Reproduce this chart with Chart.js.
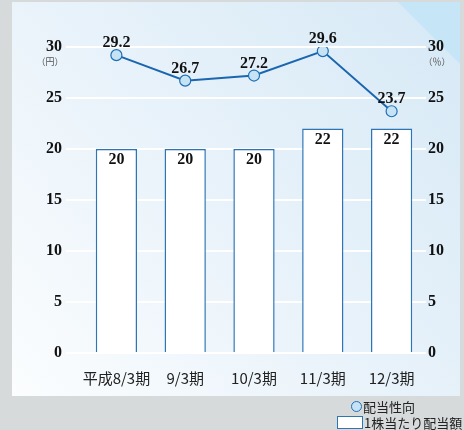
<!DOCTYPE html>
<html>
<head>
<meta charset="utf-8">
<script src="https://cdn.jsdelivr.net/npm/chart.js@4/dist/chart.umd.min.js"></script>
<style>
    html, body { margin: 0; padding: 0; background: #d6dadb; }
    #wrap { position: relative; width: 464px; height: 430px; }
    #chart { position: absolute; left: 0; top: 0; }
    .legend { position: absolute; font: 13px "Noto Sans CJK JP", sans-serif; color: #222; white-space: nowrap; line-height: 15px; }
    .legend span { display: inline-block; vertical-align: middle; box-sizing: border-box; }
</style>
</head>
<body>
<div id="wrap">
    <canvas id="chart" width="464" height="430"></canvas>
    <div class="legend" style="left:351px; top:397px;"><span style="width:11px;height:11px;border-radius:50%;background:#c5e3f5;border:1.5px solid #1f6fb5;"></span><span style="margin-left:1px;">配当性向</span></div>
    <div class="legend" style="left:337px; top:413px;"><span style="width:26px;height:13px;background:#fff;border:1.5px solid #2e75b6;"></span><span style="margin-left:1px;">1株当たり配当額</span></div>
</div>
<script>
const periods = ["平成8/3期", "9/3期", "10/3期", "11/3期", "12/3期"];
const dividendPerShare = [20, 20, 20, 22, 22];
const payoutRatio = [29.2, 26.7, 27.2, 29.6, 23.7];
const yTicks = [0, 5, 10, 15, 20, 25, 30];

const serifBold = { family: "'Liberation Serif', 'DejaVu Serif', serif", size: 16, weight: "bold" };

// panel background, corner triangle and unit labels
const backdrop = {
    id: "backdrop",
    beforeDraw(chart) {
        const ctx = chart.ctx;
        ctx.save();
        const grad = ctx.createLinearGradient(12, 396, 460, 2);
        grad.addColorStop(0, "#fbfdfe");
        grad.addColorStop(0.5, "#e8f2fa");
        grad.addColorStop(1, "#d6e9f6");
        ctx.fillStyle = grad;
        ctx.fillRect(12, 2, 448, 394);
        ctx.fillStyle = "#c6e6f7";
        ctx.beginPath();
        ctx.moveTo(398, 2);
        ctx.lineTo(460, 2);
        ctx.lineTo(460, 64);
        ctx.closePath();
        ctx.fill();
        ctx.restore();
    },
    afterDraw(chart) {
        const ctx = chart.ctx;
        ctx.save();
        ctx.font = "9px 'Noto Sans CJK JP', sans-serif";
        ctx.fillStyle = "#555";
        ctx.textAlign = "center";
        ctx.textBaseline = "middle";
        ctx.fillText("（円）", 50, 62);
        ctx.fillText("（％）", 437, 62);
        ctx.restore();
    }
};

// value labels above the points and inside the bars
const valueLabels = {
    id: "valueLabels",
    afterDatasetsDraw(chart) {
        const ctx = chart.ctx;
        ctx.save();
        ctx.font = "bold 16px 'Liberation Serif', serif";
        ctx.fillStyle = "#111";
        ctx.textAlign = "center";
        chart.getDatasetMeta(1).data.forEach((bar, i) => {
            ctx.textBaseline = "top";
            ctx.fillText(String(dividendPerShare[i]), bar.x, bar.y + 3);
        });
        chart.getDatasetMeta(0).data.forEach((pt, i) => {
            ctx.textBaseline = "bottom";
            ctx.fillText(payoutRatio[i].toFixed(1), pt.x, pt.y - 4);
        });
        ctx.restore();
    }
};

new Chart(document.getElementById("chart"), {
    data: {
        labels: periods,
        datasets: [
            {
                type: "line",
                label: "配当性向",
                data: payoutRatio,
                yAxisID: "y",
                borderColor: "#1a66b0",
                borderWidth: 2,
                pointRadius: 5.5,
                pointBackgroundColor: "#c5e3f5",
                pointBorderColor: "#1f6fb5",
                pointBorderWidth: 1.2,
                tension: 0,
                order: 0
            },
            {
                type: "bar",
                label: "1株当たり配当額",
                data: dividendPerShare,
                yAxisID: "y",
                backgroundColor: "#ffffff",
                borderColor: "#2e75b6",
                borderWidth: 1.5,
                barPercentage: 0.6,
                categoryPercentage: 1,
                order: 1
            }
        ]
    },
    options: {
        responsive: false,
        animation: false,
        layout: { padding: { top: 47, right: 0, bottom: 0, left: 0 } },
        plugins: { legend: { display: false }, tooltip: { enabled: false } },
        scales: {
            x: {
                grid: { display: false },
                border: { display: false },
                ticks: {
                    padding: 8,
                    minRotation: 0,
                    maxRotation: 0,
                    autoSkip: false,
                    color: "#222",
                    font: { family: "'Noto Sans CJK JP', sans-serif", size: 15 }
                },
                afterFit(scale) { scale.height = 77; }
            },
            y: {
                position: "left",
                min: 0,
                max: 30,
                afterBuildTicks(scale) { scale.ticks = yTicks.map((v) => ({ value: v })); },
                grid: { color: "#ffffff", lineWidth: 2, tickLength: 16, drawTicks: true },
                border: { display: false },
                ticks: { padding: 4, color: "#111", font: serifBold },
                afterFit(scale) { scale.width = 82; }
            },
            y2: {
                position: "right",
                min: 0,
                max: 30,
                afterBuildTicks(scale) { scale.ticks = yTicks.map((v) => ({ value: v })); },
                grid: { drawOnChartArea: false, drawTicks: false },
                border: { display: false },
                ticks: { padding: 2, color: "#111", font: serifBold },
                afterFit(scale) { scale.width = 38; }
            }
        }
    },
    plugins: [backdrop, valueLabels]
});
</script>
</body>
</html>
